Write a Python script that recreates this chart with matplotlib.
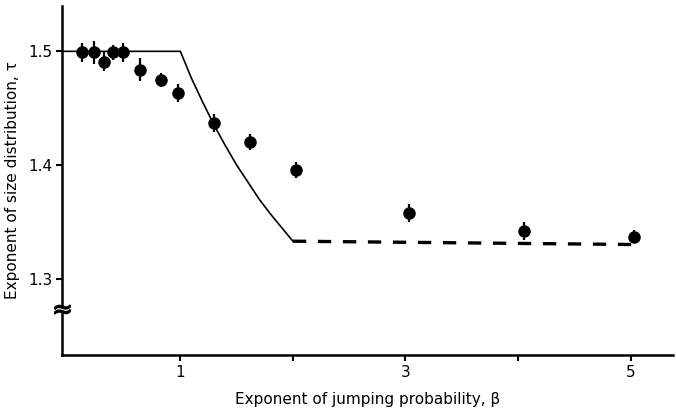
import matplotlib.pyplot as plt
from matplotlib.patches import Rectangle
import matplotlib.transforms as mtransforms

# measured points (beta, tau) and error bars
beta = [0.13, 0.235, 0.32, 0.40, 0.49, 0.64, 0.83, 0.98, 1.30, 1.62, 2.03, 3.03, 4.05, 5.03]
tau = [1.499, 1.499, 1.491, 1.499, 1.499, 1.484, 1.475, 1.463, 1.437, 1.420, 1.396, 1.358, 1.342, 1.337]
tau_err = [0.008, 0.010, 0.008, 0.007, 0.008, 0.010, 0.006, 0.008, 0.008, 0.007, 0.007, 0.008, 0.008, 0.006]

# theory: solid part and dashed continuation
theory_beta = [-0.05, 1.0, 1.1, 1.2, 1.3, 1.4, 1.5, 1.6, 1.7, 1.8, 1.9, 2.0]
theory_tau = [1.5, 1.5, 1.476, 1.455, 1.435, 1.417, 1.400, 1.385, 1.370, 1.357, 1.345, 1.333]
dash_beta = [2.0, 5.1]
dash_tau = [1.333, 1.330]

xticks = [1, 2, 3, 4, 5]
xticklabels = ['1', '', '3', '', '5']
yticks = [1.3, 1.4, 1.5]
yticklabels = ['1.3', '1.4', '1.5']
y_break = 1.273

fig = plt.figure(figsize=(6.76, 4.18), dpi=100)
ax = fig.add_axes([0.092, 0.151, 0.904, 0.835])

ax.plot(theory_beta, theory_tau, color='black', lw=1.2, zorder=2)
ax.plot(dash_beta, dash_tau, color='black', lw=2.4, dashes=(4, 3.5), zorder=2)
ax.errorbar(beta, tau, yerr=tau_err, fmt='o', color='black', ms=8, elinewidth=1.6,
            capsize=0, zorder=3)

ax.set_xlim(-0.05, 5.38)
ax.set_ylim(1.233, 1.540)
ax.set_xticks(xticks)
ax.set_xticklabels(xticklabels)
ax.set_yticks(yticks)
ax.set_yticklabels(yticklabels)

for s in ['top', 'right']:
    ax.spines[s].set_visible(False)
for s in ['left', 'bottom']:
    ax.spines[s].set_linewidth(1.8)
ax.tick_params(direction='out', length=4, width=1.5, labelsize=11, pad=3)

# axis break on the y spine
trans = mtransforms.blended_transform_factory(ax.transAxes, ax.transData)
ax.add_patch(Rectangle((-0.012, y_break - 0.003), 0.024, 0.006, transform=trans,
                       facecolor='white', edgecolor='none', clip_on=False, zorder=5))
ax.plot([0.0], [y_break], marker='$\\approx$', ms=11, color='black', transform=trans,
        clip_on=False, zorder=6)

ax.set_xlabel('Exponent of jumping probability, β', fontsize=11, labelpad=9)
ax.set_ylabel('Exponent of size distribution, τ', fontsize=11, labelpad=6)

fig.savefig('out.png', dpi=100)
